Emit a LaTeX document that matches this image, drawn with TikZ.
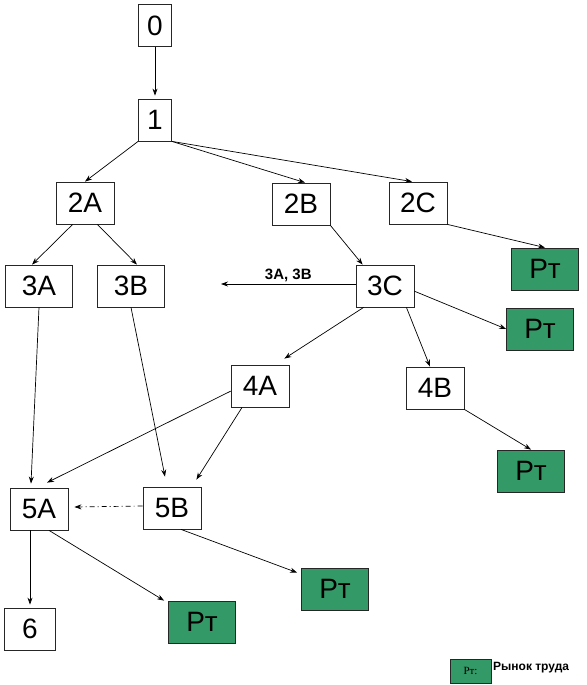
\documentclass[tikz,border=0pt]{standalone}
\usepackage{fontspec}
\setmainfont{Liberation Sans}
\newfontfamily\keyserif{Liberation Serif}
\usetikzlibrary{arrows.meta}
\definecolor{rtgreen}{RGB}{51,153,102}
\begin{document}
\begin{tikzpicture}[x=1pt,y=-1pt,
    stage/.style={draw=black!85,fill=white,line width=0.8pt,inner sep=0pt,
      minimum height=42pt,minimum width=58pt,font=\fontsize{28}{30}\selectfont},
    narrow/.style={stage,minimum width=33pt},
    wide/.style={stage,minimum width=67pt},
    market/.style={stage,fill=rtgreen,minimum width=67pt}]
      \useasboundingbox (0,0) rectangle (586,685);
      \draw
        (155,25.5) node[narrow] (n0){0}
        (155,120) node[narrow] (n1){1}
        (85,203) node[stage] (n2a){2A}
        (301,204) node[stage] (n2b){2B}
        (418,203) node[stage] (n2c){2C}
        (545,269) node[market] (rt1){Рт}
        (39,286) node[wide] (n3a){3A}
        (131,286) node[wide] (n3b){3B}
        (385,286) node[stage] (n3c){3C}
        (540,329) node[market] (rt2){Рт}
        (260,386) node[stage] (n4a){4A}
        (435,388) node[stage] (n4b){4B}
        (531,471) node[market] (rt3){Рт}
        (39,509) node[stage] (n5a){5A}
        (172,508) node[stage] (n5b){5B}
        (335,589) node[market] (rt4){Рт}
        (202,622) node[market] (rt5){Рт}
        (30,629) node[stage,minimum width=51pt] (n6){6};
      \coordinate (sum) at (221,284);
      \node[draw=black!85,fill=rtgreen,line width=0.8pt,inner sep=0pt,
        minimum width=41pt,minimum height=24pt,
        font=\keyserif\fontsize{11}{12}\selectfont] (key) at (470.5,671) {Рт:};
      \node[anchor=west,inner sep=0pt,font=\bfseries\fontsize{12}{14}\selectfont]
        (keytext) at (493,668) {Рынок труда};
      \begin{scope}[-{Stealth[length=7pt,width=5pt]},line width=0.7pt]
        \draw[shorten >=3pt] (n0) to (n1);
        \draw (n1.south west) to (n2a.north);
        \draw (n1.south east) to ([xshift=4pt]n2b.north);
        \draw (n1.south east) to ([xshift=-6pt]n2c.north);
        \draw (n2a.-120) to ([xshift=-7pt]n3a.north);
        \draw (n2a.-60) to ([xshift=6pt]n3b.north);
        \draw (n2b.south east) to ([xshift=7pt]n3c.north west);
        \draw (n2c.south east) to (rt1.north);
        \draw ([yshift=2pt]n3c.west) to
          node[above,inner sep=2pt,font=\bfseries\fontsize{15}{16}\selectfont]{3A, 3B} (sum);
        \draw (n3c.-10) to (rt2.west);
        \draw (n3c.-135) to ([xshift=-5pt,yshift=6pt]n4a.north east);
        \draw (n3c.-45) to ([xshift=-5pt]n4b.north);
        \draw (n4b.south east) to (rt3.north);
        \draw (n3a.south) to ([xshift=-8pt,yshift=4pt]n5a.north);
        \draw (n3b.south) to ([xshift=-7pt,yshift=10pt]n5b.north);
        \draw (n4a.190) to ([xshift=8pt,yshift=5pt]n5a.north);
        \draw (n4a.-130) to ([xshift=-5pt,yshift=7pt]n5b.north east);
        \draw[dash pattern=on 5pt off 3pt on 1pt off 3pt]
          ([yshift=2pt]n5b.west) to ([xshift=6pt,yshift=2pt]n5a.east);
        \draw ([xshift=-9pt]n5a.south) to ([yshift=3pt]n6.north);
        \draw ([xshift=10pt]n5a.south) to ([xshift=-4pt]rt5.north west);
        \draw ([xshift=9pt]n5b.south) to ([xshift=-4pt,yshift=-5pt]rt4.north west);
      \end{scope}
    \end{tikzpicture}
\end{document}
